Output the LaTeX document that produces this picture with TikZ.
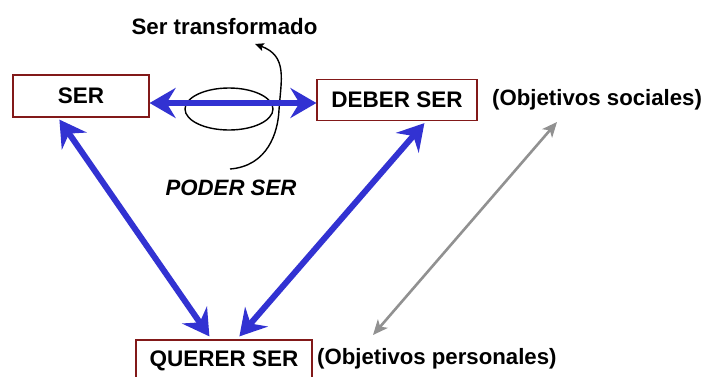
\documentclass[tikz,border=0pt]{standalone}
\usepackage{fontspec}
\setmainfont{Liberation Sans}
\usetikzlibrary{arrows.meta,calc}
\definecolor{arrblue}{RGB}{50,50,210}
\definecolor{boxred}{RGB}{130,25,25}
\definecolor{arrgray}{RGB}{145,145,145}
\begin{document}
\begin{tikzpicture}[x=1pt,y=-1pt,
  box/.style={draw=boxred,line width=1.2pt,inner sep=0pt,font=\fontsize{22.5}{24}\selectfont\bfseries},
  lbl/.style={inner sep=0pt,font=\fontsize{22.2}{24}\selectfont\bfseries},
  bluearr/.style={draw=arrblue,line width=6pt,{Stealth[length=26pt,width=30pt,inset=9pt]}-{Stealth[length=26pt,width=30pt,inset=9pt]}},
  grayarr/.style={draw=arrgray,line width=2.6pt,{Stealth[length=15pt,width=13pt,inset=4pt]}-{Stealth[length=15pt,width=13pt,inset=4pt]}},
  thinblack/.style={draw=black,line width=1.4pt}]
\path[use as bounding box] (0,0) rectangle (704,376);
\fill[white] (0,0) rectangle (704,376);
% boxes
\node[box,minimum width=136pt,minimum height=42pt] (ser) at (81,96) {SER};
\node[box,minimum width=160pt,minimum height=41pt] (deber) at (397,100) {DEBER SER};
\node[box,minimum width=176pt,minimum height=42pt] (querer) at (224,361) {QUERER SER};
% labels
\node[lbl,anchor=west] (soc) at (492,100) {(Objetivos sociales)};
\node[lbl,anchor=west] (pers) at (317,359) {(Objetivos personales)};
\node[inner sep=0pt,font=\fontsize{22.3}{24}\selectfont\bfseries] (trans) at (224.5,27) {Ser transformado};
\node[inner sep=0pt,font=\fontsize{22.2}{24}\selectfont\bfseries\itshape] (poder) at (231,188) {PODER SER};
% ellipse and curve
\draw[thinblack] (229,109) ellipse [x radius=44pt, y radius=21pt];
\coordinate (cstart) at (230,169);
\coordinate (cmid) at (279,110);
\coordinate (cend) at (255,44);
\draw[thinblack,-{Stealth[length=9pt,width=8pt,inset=2pt]}] (cstart) .. controls (268,166) and (278,132) .. (cmid) .. controls (281,80) and (288,56) .. (cend);
% blue arrows
\draw[bluearr] ([yshift=-7pt]ser.east) -- ([yshift=-3pt]deber.west);
\draw[bluearr] ($(ser.south west)+(47,2)$) -- ($(querer.north west)+(74,-3)$);
\draw[bluearr] ($(querer.north west)+(104,-3)$) -- ($(deber.south west)+(108,2)$);
% gray arrow
\coordinate (g1) at (373,335);
\coordinate (g2) at (557,122);
\draw[grayarr] (g1) -- (g2);
\end{tikzpicture}
\end{document}
